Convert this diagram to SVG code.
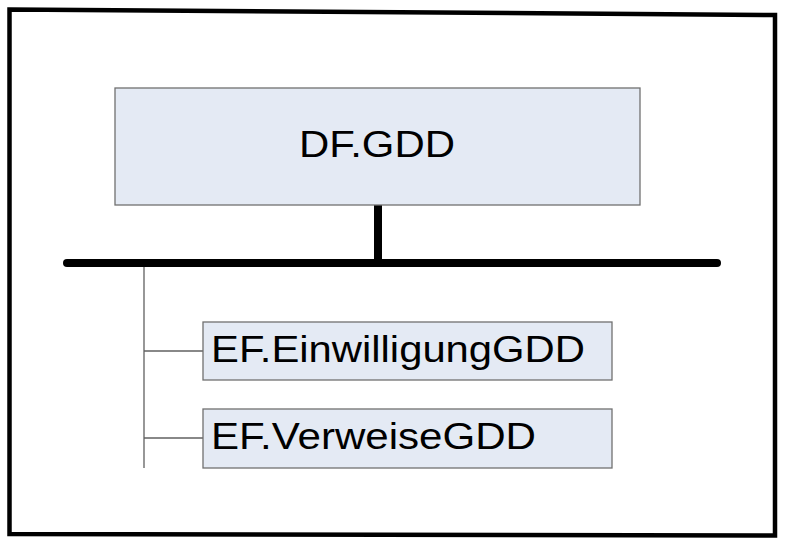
<svg xmlns="http://www.w3.org/2000/svg" width="785" height="545" viewBox="0 0 785 545">
<style>
.box{fill:#e4eaf4;stroke:#707070;stroke-width:1.3}
.lbl{font-family:"Liberation Sans",Arial,sans-serif;font-size:36px;fill:#000}
.thin{stroke:#606060;stroke-width:1.3;fill:none}
</style>
<rect width="785" height="545" fill="#fff"/>
<polygon points="9.5,9.5 775,15 775,535.5 9.5,534" fill="none" stroke="#000" stroke-width="4.5" stroke-linejoin="miter"/>
<g id="connectors">
<line x1="378" y1="205" x2="378" y2="263" stroke="#000" stroke-width="8"/>
<line x1="67" y1="263" x2="717" y2="263" stroke="#000" stroke-width="8" stroke-linecap="round"/>
<line class="thin" x1="144" y1="267" x2="144" y2="468"/>
<line class="thin" x1="144" y1="351" x2="203" y2="351"/>
<line class="thin" x1="144" y1="438" x2="203" y2="438"/>
</g>
<g id="df-gdd">
<rect class="box" x="115" y="88" width="525" height="117"/>
<text class="lbl" x="299" y="157" textLength="156" lengthAdjust="spacingAndGlyphs">DF.GDD</text>
</g>
<g id="ef-einwilligung">
<rect class="box" x="203" y="322" width="409" height="58"/>
<text class="lbl" x="211" y="362" textLength="374" lengthAdjust="spacingAndGlyphs">EF.EinwilligungGDD</text>
</g>
<g id="ef-verweise">
<rect class="box" x="203" y="409" width="409" height="59"/>
<text class="lbl" x="211" y="449" textLength="325" lengthAdjust="spacingAndGlyphs">EF.VerweiseGDD</text>
</g>
</svg>
